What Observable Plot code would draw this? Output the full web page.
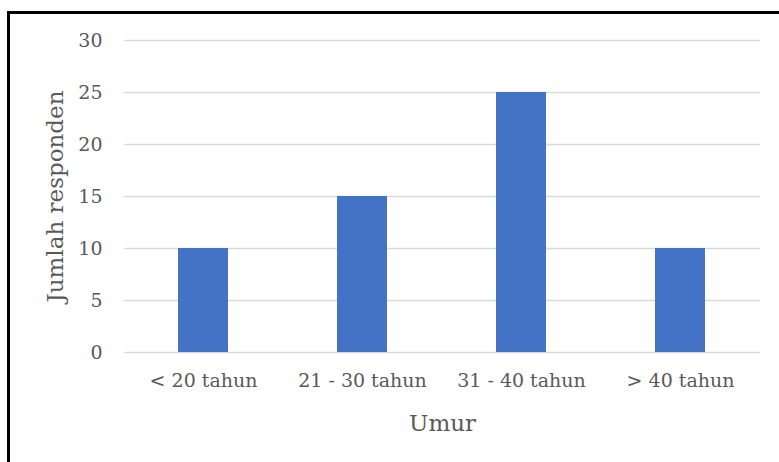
<!DOCTYPE html>
<html>
<head>
<meta charset="utf-8">
<script src="https://cdn.jsdelivr.net/npm/d3@7"></script>
<script src="https://cdn.jsdelivr.net/npm/@observablehq/plot@0.6"></script>
<style>
  html, body { margin: 0; padding: 0; background: #fff; }
  #wrap { position: relative; width: 779px; height: 462px; overflow: hidden; }
  #frame { position: absolute; left: 7px; top: 11px; width: 800px; height: 500px;
           border-left: 3px solid #000; border-top: 3px solid #000; box-sizing: border-box; }
  #chart { position: absolute; left: 0; top: 0; }
  #chart text { font-family: 'DejaVu Serif', serif; }
</style>
</head>
<body>
<div id="wrap">
  <div id="frame"></div>
  <div id="chart"></div>
</div>
<script>
const categories = ["< 20 tahun", "21 - 30 tahun", "31 - 40 tahun", "> 40 tahun"];
const values = [10, 15, 25, 10];
const yTicks = [0, 5, 10, 15, 20, 25, 30];
const xTitle = "Umur";
const yTitle = "Jumlah responden";

const data = categories.map((c, i) => ({category: c, value: values[i]}));

const chart = Plot.plot({
  width: 779,
  height: 462,
  marginLeft: 124,
  marginRight: 19,
  marginTop: 40,
  marginBottom: 110,
  style: {fontFamily: "'DejaVu Serif', serif", fontSize: "19px", color: "#595959", background: "transparent"},
  x: {domain: categories, paddingInner: 0.685, paddingOuter: 0.3425, label: null},
  y: {domain: [0, 30], label: null},
  marks: [
    Plot.gridY(yTicks, {stroke: "#d9d9d9", strokeOpacity: 1, strokeWidth: 1.5}),
    Plot.barY(data, {x: "category", y: "value", fill: "#4472C4"}),
    Plot.axisY(yTicks, {tickSize: 0, tickPadding: 22, fontSize: 19, label: null, fill: "#595959"}),
    Plot.axisY({tickSize: 0, ticks: [], label: yTitle, labelArrow: "none", labelAnchor: "center", labelOffset: 78, fontSize: 23, fill: "#595959"}),
    Plot.axisX({tickSize: 0, tickPadding: 21, fontSize: 19, label: null, fill: "#595959"}),
    Plot.axisX({tickSize: 0, ticks: [], label: xTitle, labelArrow: "none", labelAnchor: "center", labelOffset: 78, fontSize: 23, fill: "#595959"})
  ]
});
document.getElementById("chart").appendChild(chart);
</script>
</body>
</html>
